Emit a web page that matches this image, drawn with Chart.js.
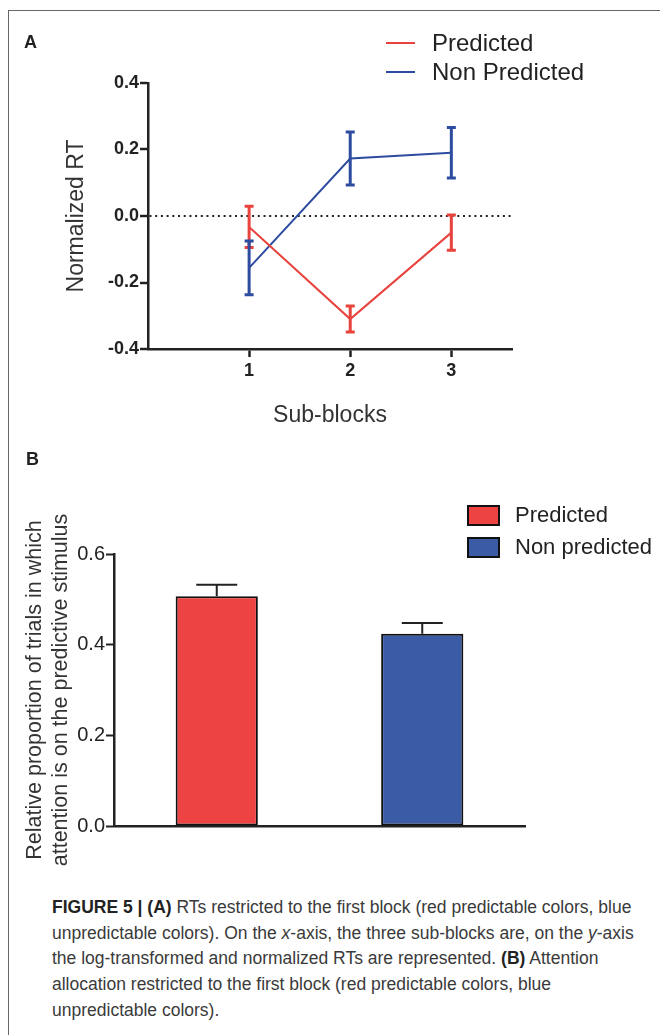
<!DOCTYPE html>
<html lang="en">
<head>
    <meta charset="UTF-8">
    <script src="https://cdn.jsdelivr.net/npm/chart.js@4.4.1/dist/chart.umd.min.js"></script>
    <title>Figure 5</title>
    <style>
        body { margin: 0; background: #fff; font-family: "Liberation Sans", Arial, sans-serif; color: #222; }
        #page { position: relative; width: 660px; height: 1035px; overflow: hidden; }
        #frame { position: absolute; left: 8px; top: 10px; width: 800px; height: 1100px;
                 border-left: 1.5px solid #666; border-top: 1.5px solid #666; }
        .panel { position: absolute; font-weight: bold; font-size: 18px; }
        canvas { position: absolute; left: 0; }
        .legend { position: absolute; }
        .legend .row { display: flex; align-items: center; }
        #legendA .row { height: 29px; font-size: 24px; }
        #legendA .swatch { width: 29px; height: 2px; margin-right: 17px; }
        #legendB .row { height: 32px; font-size: 22px; }
        #legendB .swatch { width: 29px; height: 17px; border: 2px solid #111; margin-right: 15px; }
        #caption { position: absolute; left: 52px; top: 895px; width: 606px; font-size: 17.5px;
                   line-height: 25.7px; color: #3a3a3a; white-space: nowrap; }
        #caption b { color: #222; }
    </style>
</head>
<body>
<div id="page">
    <div id="frame"></div>
    <canvas id="chartA" width="660" height="440" style="top:0"></canvas>
    <canvas id="chartB" width="660" height="430" style="top:440px"></canvas>
    <div class="panel" style="left:24px; top:32px">A</div>
    <div class="panel" style="left:26px; top:449px">B</div>
    <div class="legend" id="legendA" style="left:386px; top:28px"></div>
    <div class="legend" id="legendB" style="left:467px; top:499px"></div>
    <div id="caption">
        <b>FIGURE 5 | (A)</b> RTs restricted to the first block (red predictable colors, blue<br>
        unpredictable colors). On the <i>x</i>-axis, the three sub-blocks are, on the <i>y</i>-axis<br>
        the log-transformed and normalized RTs are represented. <b>(B)</b> Attention<br>
        allocation restricted to the first block (red predictable colors, blue<br>
        unpredictable colors).
    </div>
</div>
<script>
    // panel A: normalized RT per sub-block (mean and error)
    var subBlocks = [1, 2, 3];
    var predictedRT = [-0.033, -0.31, -0.05];
    var predictedErr = [0.062, 0.039, 0.053];
    var nonPredictedRT = [-0.156, 0.173, 0.19];
    var nonPredictedErr = [0.081, 0.08, 0.076];
    var rtTicks = [-0.4, -0.2, 0, 0.2, 0.4];

    // panel B: attention allocation
    var groups = ['Predicted', 'Non predicted'];
    var attention = [0.507, 0.424];
    var attentionErr = [0.025, 0.024];

    var red = '#e8433d';
    var blue = '#2d4c9f';
    var barRed = '#ee4343';
    var barBlue = '#3b5ba4';
    var ink = '#222';

    Chart.defaults.font.family = '"Liberation Sans", Arial, sans-serif';
    Chart.defaults.color = ink;

    function toPoints(ys) {
        return subBlocks.map(function (x, i) { return { x: x, y: ys[i] }; });
    }

    function label1(v) {
        return (Math.abs(v) < 1e-9 ? 0 : v).toFixed(1);
    }

    // draws mean +/- error bars for each dataset using the chart scales
    var errorBars = {
        id: 'errorBars',
        afterDatasetsDraw: function (chart, args, opts) {
            var ctx = chart.ctx;
            var yScale = chart.scales.y;
            chart.data.datasets.forEach(function (ds, i) {
                var meta = chart.getDatasetMeta(i);
                ctx.save();
                ctx.lineWidth = opts.width;
                meta.data.forEach(function (el, j) {
                    var v = ds.data[j].y !== undefined ? ds.data[j].y : ds.data[j];
                    var e = ds.errors[j];
                    var hi = yScale.getPixelForValue(v + e);
                    var lo = opts.upOnly ? el.y : yScale.getPixelForValue(v - e);
                    var cap = opts.cap;
                    ctx.strokeStyle = opts.color || ds.borderColor;
                    ctx.beginPath();
                    ctx.moveTo(el.x, hi); ctx.lineTo(el.x, lo);
                    ctx.moveTo(el.x - cap, hi); ctx.lineTo(el.x + cap, hi);
                    if (!opts.upOnly) { ctx.moveTo(el.x - cap, lo); ctx.lineTo(el.x + cap, lo); }
                    ctx.stroke();
                });
                ctx.restore();
            });
        }
    };

    var chartA = new Chart(document.getElementById('chartA'), {
        type: 'line',
        data: {
            datasets: [{
                label: 'Predicted',
                data: toPoints(predictedRT),
                errors: predictedErr,
                borderColor: red,
                borderWidth: 2,
                pointRadius: 0,
                tension: 0
            }, {
                label: 'Non Predicted',
                data: toPoints(nonPredictedRT),
                errors: nonPredictedErr,
                borderColor: blue,
                borderWidth: 2,
                pointRadius: 0,
                tension: 0
            }]
        },
        options: {
            responsive: false,
            animation: false,
            layout: { padding: { left: 0, top: 83, right: 148, bottom: 0 } },
            plugins: {
                legend: { display: false },
                tooltip: { enabled: false },
                errorBars: { width: 3, cap: 4.5 }
            },
            scales: {
                x: {
                    type: 'linear',
                    min: 0,
                    max: 3.6,
                    afterBuildTicks: function (s) { s.ticks = subBlocks.map(function (v) { return { value: v }; }); },
                    afterFit: function (s) { s.height = 91; },
                    ticks: { font: { size: 18, weight: 'bold' }, padding: 3, color: ink },
                    grid: { drawOnChartArea: false, tickLength: 8, tickColor: ink, tickWidth: 2.5 },
                    border: { color: ink, width: 2.5 },
                    title: { display: true, text: 'Sub-blocks', font: { size: 23 }, padding: { bottom: 11 }, color: '#333' }
                },
                y: {
                    min: -0.4,
                    max: 0.4,
                    afterBuildTicks: function (s) { s.ticks = rtTicks.map(function (v) { return { value: v }; }); },
                    afterFit: function (s) { s.width = 148; },
                    ticks: { font: { size: 18, weight: 'bold' }, padding: 1, color: ink, callback: label1 },
                    grid: {
                        color: function (c) { return c.tick && Math.abs(c.tick.value) < 1e-9 ? ink : 'rgba(0,0,0,0)'; },
                        lineWidth: 2,
                        tickLength: 8,
                        tickColor: ink,
                        tickWidth: 2.5
                    },
                    border: { color: ink, width: 2.5, dash: [2, 3.7] },
                    title: { display: true, text: 'Normalized RT', font: { size: 23 }, padding: { top: 63 }, color: '#333' }
                }
            }
        },
        plugins: [errorBars]
    });

    var chartB = new Chart(document.getElementById('chartB'), {
        type: 'bar',
        data: {
            labels: groups,
            datasets: [{
                label: 'Attention',
                data: attention,
                errors: attentionErr,
                backgroundColor: [barRed, barBlue],
                borderColor: '#111',
                borderWidth: 2,
                borderSkipped: false,
                barPercentage: 0.8,
                categoryPercentage: 0.5
            }]
        },
        options: {
            responsive: false,
            animation: false,
            layout: { padding: { left: 0, top: 114, right: 135, bottom: 0 } },
            plugins: {
                legend: { display: false },
                tooltip: { enabled: false },
                errorBars: { width: 2, cap: 20.5, upOnly: true, color: '#222' }
            },
            scales: {
                x: {
                    afterFit: function (s) { s.height = 44; },
                    ticks: { display: false },
                    grid: { display: false },
                    border: { color: ink, width: 2.5 }
                },
                y: {
                    min: 0,
                    max: 0.6,
                    ticks: { stepSize: 0.2, font: { size: 20 }, padding: 1, color: ink, callback: label1 },
                    afterFit: function (s) { s.width = 114; },
                    grid: { drawOnChartArea: false, tickLength: 8, tickColor: ink, tickWidth: 2 },
                    border: { color: ink, width: 2.5 },
                    title: {
                        display: true,
                        text: ['Relative proportion of trials in which', 'attention is on the predictive stimulus'],
                        font: { size: 21.5, lineHeight: 1.21 },
                        padding: { top: 22 },
                        color: '#333'
                    }
                }
            }
        },
        plugins: [errorBars]
    });

    // html legends built from the chart data
    function addRow(el, color, text) {
        var row = document.createElement('div');
        row.className = 'row';
        var sw = document.createElement('span');
        sw.className = 'swatch';
        sw.style.background = color;
        var tx = document.createElement('span');
        tx.textContent = text;
        row.appendChild(sw);
        row.appendChild(tx);
        el.appendChild(row);
    }
    var legA = document.getElementById('legendA');
    chartA.data.datasets.forEach(function (ds) { addRow(legA, ds.borderColor, ds.label); });
    var legB = document.getElementById('legendB');
    groups.forEach(function (g, i) { addRow(legB, chartB.data.datasets[0].backgroundColor[i], g); });
</script>
</body>
</html>
